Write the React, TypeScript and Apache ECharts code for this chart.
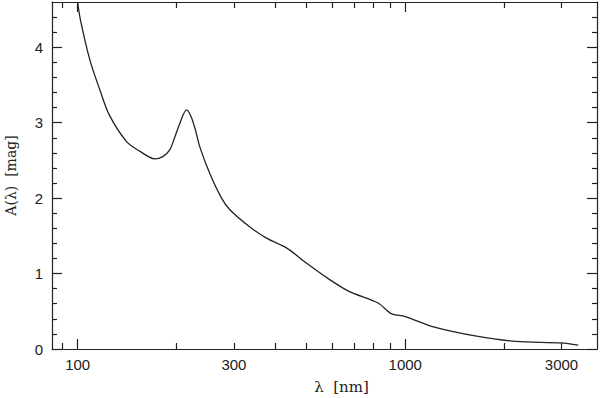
import React, { useEffect, useRef } from "react";
import * as echarts from "echarts";

// wavelength (nm) and extinction A(lambda) (mag)
const lambdaNm = [
  100, 102, 109, 117, 125, 141, 155, 172, 182, 191, 198, 205, 215, 222, 229,
  236, 253, 275, 291, 335, 377, 434, 499, 588, 676, 826, 906, 1000, 1228,
  1652, 2178, 3000, 3374,
];
const extinction = [
  4.6, 4.36, 3.83, 3.43, 3.1, 2.75, 2.62, 2.52, 2.55, 2.64, 2.81, 2.99, 3.17,
  3.08, 2.9, 2.68, 2.33, 2.0, 1.85, 1.62, 1.47, 1.34, 1.14, 0.92, 0.76, 0.61,
  0.47, 0.43, 0.29, 0.17, 0.1, 0.08, 0.05,
];

const xMin = 83.5;
const xMax = 3850;
const xMajorTicks = [100, 1000];
const xMinorTicks = [90, 200, 300, 400, 500, 600, 700, 800, 900, 2000, 3000];
const xLabels = [100, 300, 1000, 3000];

const yMin = 0;
const yMax = 4.6;
const yMajorTicks = [0, 1, 2, 3, 4];
const yMinorTicks = [
  0.2, 0.4, 0.6, 0.8, 1.2, 1.4, 1.6, 1.8, 2.2, 2.4, 2.6, 2.8, 3.2, 3.4, 3.6,
  3.8, 4.2, 4.4,
];

const lg = (v: number) => Math.log10(v);
const INK = "#222";
const LABEL_FONT = "'Liberation Sans', Arial, sans-serif";
const TITLE_FONT = "'DejaVu Serif', 'Liberation Serif', serif";

export default function App() {
  const ref = useRef<HTMLDivElement>(null);

  useEffect(() => {
    if (!ref.current) return;
    const chart = echarts.init(ref.current, undefined, { renderer: "svg" });

    const xBase = (position: "bottom" | "top", ticks: number[], len: number, showLine: boolean, labels: boolean, name?: string) => ({
      type: "value",
      position,
      min: lg(xMin),
      max: lg(xMax),
      splitLine: { show: false },
      axisLine: { show: showLine, onZero: false, lineStyle: { color: INK, width: 1.2 } },
      axisTick: {
        show: true,
        inside: true,
        length: len,
        customValues: ticks.map(lg),
        lineStyle: { color: INK, width: 1.2 },
      },
      axisLabel: labels
        ? {
            show: true,
            customValues: xLabels.map(lg),
            formatter: (v: number) => String(Math.round(Math.pow(10, v))),
            color: INK,
            fontFamily: LABEL_FONT,
            fontSize: 15,
            margin: 8,
          }
        : { show: false },
      name: name || "",
      nameLocation: "middle",
      nameGap: 30,
      nameTextStyle: {
        fontFamily: TITLE_FONT,
        fontSize: 15,
        color: INK,
        padding: [0, 0, 0, 34],
      },
    });

    const yBase = (position: "left" | "right", ticks: number[], len: number, showLine: boolean, labels: boolean, name?: string) => ({
      type: "value",
      position,
      min: yMin,
      max: yMax,
      splitLine: { show: false },
      axisLine: { show: showLine, onZero: false, lineStyle: { color: INK, width: 1.2 } },
      axisTick: {
        show: true,
        inside: true,
        length: len,
        customValues: ticks,
        lineStyle: { color: INK, width: 1.2 },
      },
      axisLabel: labels
        ? {
            show: true,
            customValues: yMajorTicks,
            color: INK,
            fontFamily: LABEL_FONT,
            fontSize: 15,
            margin: 9,
          }
        : { show: false },
      name: name || "",
      nameLocation: "middle",
      nameGap: 34,
      nameRotate: 90,
      nameTextStyle: {
        fontFamily: TITLE_FONT,
        fontSize: 14,
        color: INK,
      },
    });

    chart.setOption({
      animation: false,
      backgroundColor: "#fff",
      grid: { left: 52, right: 3, top: 2, bottom: 49, containLabel: false, outerBoundsMode: "none" },
      xAxis: [
        xBase("bottom", xMajorTicks, 10, true, true, "λ  [nm]"),
        xBase("bottom", xMinorTicks, 6, false, false),
        xBase("top", xMajorTicks, 10, true, false),
        xBase("top", xMinorTicks, 6, false, false),
      ],
      yAxis: [
        yBase("left", yMajorTicks, 10, true, true, "A(λ)  [mag]"),
        yBase("left", yMinorTicks, 5, false, false),
        yBase("right", yMajorTicks, 10, true, false),
        yBase("right", yMinorTicks, 5, false, false),
      ],
      series: [
        {
          type: "line",
          xAxisIndex: 0,
          yAxisIndex: 0,
          data: lambdaNm.map((l, i) => [lg(l), extinction[i]]),
          showSymbol: false,
          symbol: "none",
          smooth: 0.3,
          clip: true,
          lineStyle: { color: INK, width: 1.3 },
        },
      ],
    });

    return () => chart.dispose();
  }, []);

  return (
    <div
      ref={ref}
      style={{ position: "fixed", left: 0, top: 0, width: 600, height: 398, background: "#fff" }}
    />
  );
}
